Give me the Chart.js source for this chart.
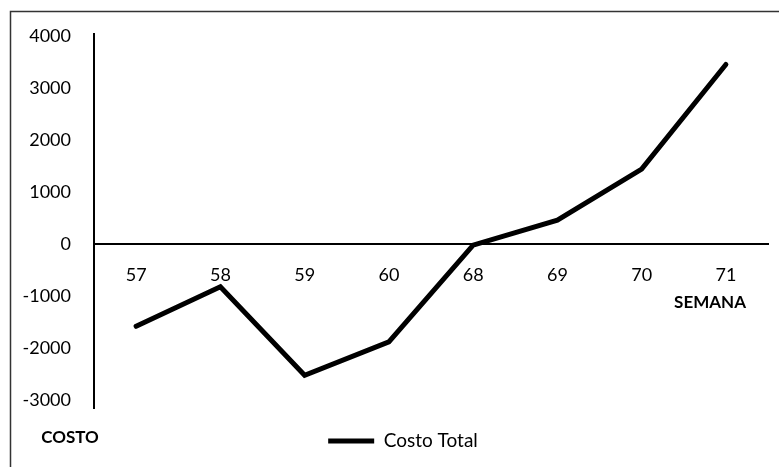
<!DOCTYPE html>
<html>
<head>
<meta charset="utf-8">
<script src="https://cdn.jsdelivr.net/npm/chart.js@4.4.1/dist/chart.umd.min.js"></script>
<style>
  html, body { margin: 0; padding: 0; background: #fff; }
  #wrap { width: 779px; height: 467px; position: relative; }
</style>
</head>
<body>
<div id="wrap"><canvas id="costChart"></canvas></div>
<script>
// data
const semanas = ['57', '58', '59', '60', '68', '69', '70', '71'];
const costoTotal = [-1580, -820, -2520, -1880, -20, 460, 1440, 3450];
const yTicks = [-3000, -2000, -1000, 0, 1000, 2000, 3000, 4000];

// frame + loose axis titles
const extras = {
    id: 'extras',
    afterLayout(chart) {
        // legend sits a bit right of centre in the original
        chart.legend.left += 19;
        chart.legend.right += 19;
    },
    afterDraw(chart) {
        const ctx = chart.ctx;
        ctx.save();
        ctx.strokeStyle = '#333';
        ctx.lineWidth = 1.5;
        ctx.beginPath();
        ctx.moveTo(10.5, 467);
        ctx.lineTo(10.5, 11.5);
        ctx.lineTo(779, 11.5);
        ctx.stroke();

        ctx.fillStyle = '#000';
        ctx.font = 'bold 17px Lato';
        ctx.textAlign = 'center';
        ctx.textBaseline = 'middle';
        ctx.fillText('SEMANA', 710, 303);
        ctx.fillText('COSTO', 70, 438);
        ctx.restore();
    }
};

const ctx = document.getElementById('costChart').getContext('2d');

new Chart(ctx, {
    type: 'line',
    data: {
        labels: semanas,
        datasets: [{
            label: 'Costo Total',
            data: costoTotal,
            borderColor: '#000',
            backgroundColor: '#000',
            borderWidth: 5,
            borderCapStyle: 'round',
            pointRadius: 0,
            tension: 0
        }]
    },
    options: {
        responsive: true,
        maintainAspectRatio: false,
        animation: false,
        layout: {
            padding: { top: 33, right: 11, left: 0, bottom: 6.5 }
        },
        plugins: {
            legend: {
                position: 'bottom',
                labels: {
                    usePointStyle: true,
                    pointStyle: 'line',
                    pointStyleWidth: 46,
                    padding: 23.5,
                    color: '#000',
                    font: { family: 'Lato', size: 19 }
                }
            },
            tooltip: { enabled: false }
        },
        scales: {
            x: {
                position: { y: 0 },
                offset: true,
                grid: { display: false, drawTicks: false },
                border: { display: true, color: '#000', width: 2 },
                ticks: {
                    padding: 20,
                    color: '#000',
                    font: { family: 'Lato', size: 18 },
                    maxRotation: 0
                },
                afterFit(scale) { scale.height = 0; }
            },
            y: {
                min: -3150,
                max: 4040,
                grid: { display: false, drawTicks: false },
                border: { display: true, color: '#000', width: 2 },
                afterBuildTicks(scale) {
                    scale.ticks = yTicks.map(v => ({ value: v }));
                },
                afterFit(scale) { scale.width = 94; },
                ticks: {
                    padding: 23,
                    color: '#000',
                    font: { family: 'Lato', size: 18 },
                    callback: v => String(v)
                }
            }
        }
    },
    plugins: [extras]
});
</script>
</body>
</html>
